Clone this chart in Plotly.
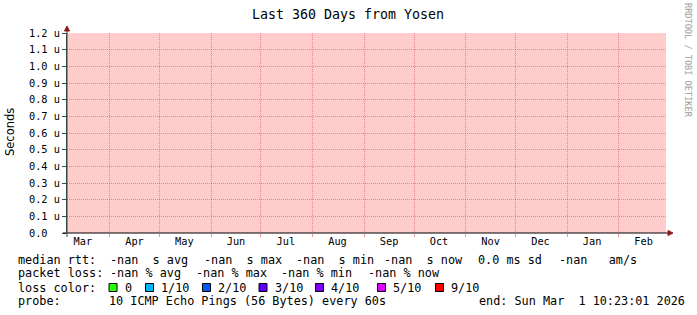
import plotly.graph_objects as go

# ---------------- data ----------------
title = "Last 360 Days from Yosen"
x_start = "2025-03-06 10:23:01"
x_end = "2026-03-01 10:23:01"

month_labels = ["Mar", "Apr", "May", "Jun", "Jul", "Aug", "Sep", "Oct", "Nov", "Dec", "Jan", "Feb"]
month_label_dates = ["2025-03-16", "2025-04-16", "2025-05-16", "2025-06-16", "2025-07-16", "2025-08-16",
                     "2025-09-16", "2025-10-16", "2025-11-16", "2025-12-16", "2026-01-16", "2026-02-16"]
month_starts = ["2025-04-01", "2025-05-01", "2025-06-01", "2025-07-01", "2025-08-01", "2025-09-01",
                "2025-10-01", "2025-11-01", "2025-12-01", "2026-01-01", "2026-02-01"]

y_tick_values = [0.0, 0.1e-6, 0.2e-6, 0.3e-6, 0.4e-6, 0.5e-6, 0.6e-6, 0.7e-6, 0.8e-6, 0.9e-6, 1.0e-6, 1.1e-6, 1.2e-6]
y_tick_text = ["0.0\u00a0\u00a0", "0.1 u", "0.2 u", "0.3 u", "0.4 u", "0.5 u", "0.6 u", "0.7 u", "0.8 u",
               "0.9 u", "1.0 u", "1.1 u", "1.2 u"]
y_title = "Seconds"

# the series has no known samples over the whole period
series_times = [x_start, x_end]
median_rtt = [None, None]

rtt_row = ["median rtt:", "-nan  s avg", "-nan  s max", "-nan  s min", "-nan  s now", "0.0 ms sd", "-nan   am/s"]
loss_row = ["packet loss:", "-nan % avg", "-nan % max", "-nan % min", "-nan % now"]
loss_color_title = "loss color:"
loss_labels = ["0", "1/10", "2/10", "3/10", "4/10", "5/10", "9/10"]
loss_colors = ["#26ff00", "#00b8ff", "#0059ff", "#5e00ff", "#7e00ff", "#dd00ff", "#ff0000"]
probe_row = ["probe:", "10 ICMP Echo Pings (56 Bytes) every 60s", "end: Sun Mar  1 10:23:01 2026"]
watermark = "RRDTOOL / TOBI OETIKER"

# ---------------- layout helpers ----------------
W, H = 697, 315
L, R, T, B = 67, 666, 33, 233


def px(x):
    return (x - L) / (R - L)


def py(y):
    return (B - y) / (B - T)


MONO = "DejaVu Sans Mono"
LEG_SIZE = 11.8
AX_SIZE = 10.3
GRID = "rgba(215,60,60,0.5)"
AXIS = "#2C4D43"
ARROW = "#8B1A1A"

fig = go.Figure()
fig.add_trace(go.Scatter(x=series_times, y=median_rtt, mode="lines",
                         line=dict(color="#26ff00", width=1), showlegend=False, hoverinfo="skip"))

fig.update_layout(
    width=W, height=H,
    margin=dict(l=L, r=W - R, t=T, b=H - B, pad=0),
    paper_bgcolor="white",
    plot_bgcolor="#FFCCCC",
    showlegend=False,
    xaxis=dict(
        type="date", range=[x_start, x_end],
        tickmode="array", tickvals=month_label_dates, ticktext=month_labels,
        showgrid=False, zeroline=False, showline=False, ticks="",
        tickfont=dict(family=MONO, size=AX_SIZE, color="black"),
        ticklabelstandoff=1,
        minor=dict(tickmode="array", tickvals=month_starts, showgrid=True, gridcolor=GRID,
                   griddash="1px,1px", gridwidth=1, ticks="outside", ticklen=3, tickcolor=GRID),
        fixedrange=True,
    ),
    yaxis=dict(
        range=[0, 1.2e-6], tickmode="array", tickvals=y_tick_values, ticktext=y_tick_text,
        showgrid=True, gridcolor=GRID, griddash="1px,1px", gridwidth=1,
        zeroline=False, showline=True, linecolor=AXIS, linewidth=1,
        ticks="outside", ticklen=4, tickcolor=AXIS,
        tickfont=dict(family=MONO, size=AX_SIZE, color="black"),
        fixedrange=True,
    ),
)

shapes = []
# x axis line with arrow
shapes.append(dict(type="line", xref="paper", yref="paper", x0=px(63), x1=px(668), y0=0, y1=0,
                   line=dict(color="black", width=1), layer="above"))
shapes.append(dict(type="path", xref="paper", yref="paper",
                   path=f"M {px(668)} {py(230.5)} L {px(673)} {py(233)} L {px(668)} {py(235.5)} Z",
                   fillcolor=ARROW, line=dict(color=ARROW, width=1), layer="above"))
# y axis extension with arrow
shapes.append(dict(type="line", xref="paper", yref="paper", x0=0, x1=0, y0=py(237), y1=py(31),
                   line=dict(color=AXIS, width=1), layer="above"))
shapes.append(dict(type="path", xref="paper", yref="paper",
                   path=f"M {px(64.5)} {py(31)} L {px(67)} {py(26)} L {px(69.5)} {py(31)} Z",
                   fillcolor=ARROW, line=dict(color=ARROW, width=1), layer="above"))

ann = []
ann.append(dict(text=title, x=px(347.5), y=py(14), xref="paper", yref="paper", showarrow=False,
                xanchor="center", yanchor="middle", font=dict(family=MONO, size=13.3, color="black")))
ann.append(dict(text=y_title, x=px(10), y=py(132), xref="paper", yref="paper", showarrow=False,
                xanchor="center", yanchor="middle", textangle=-90,
                font=dict(family="DejaVu Sans", size=11.5, color="black")))
ann.append(dict(text=watermark, x=px(688), y=py(60), xref="paper", yref="paper", showarrow=False,
                xanchor="center", yanchor="middle", textangle=90,
                font=dict(family=MONO, size=8.6, color="#a0a0a0")))


def leg(text, x, y):
    ann.append(dict(text=text.replace(" ", "\u00a0"), x=px(x), y=py(y), xref="paper", yref="paper",
                    showarrow=False, xanchor="left", yanchor="middle", borderpad=0,
                    font=dict(family=MONO, size=LEG_SIZE, color="black")))


rtt_x = [16.7, 109.3, 202.7, 295.0, 383.3, 477.3, 558.3]
for t, x in zip(rtt_row, rtt_x):
    leg(t, x, 259.5)

loss_x = [16.7, 109.0, 195.0, 280.0, 366.7]
for t, x in zip(loss_row, loss_x):
    leg(t, x, 273.2)

leg(loss_color_title, 16.7, 287.5)
box_x = [109.0, 145.5, 202.5, 259.0, 315.5, 377.5, 435.5]
for lab, col, bx in zip(loss_labels, loss_colors, box_x):
    shapes.append(dict(type="rect", xref="paper", yref="paper",
                       x0=px(bx), x1=px(bx + 8), y0=py(291.5), y1=py(283.5),
                       fillcolor=col, line=dict(color="black", width=1)))
    leg(lab, bx + 14.5, 287.5)

probe_x = [16.7, 107.7, 478.0]
for t, x in zip(probe_row, probe_x):
    leg(t, x, 301.3)

fig.update_layout(shapes=shapes, annotations=ann)
fig.write_html("out.html")
